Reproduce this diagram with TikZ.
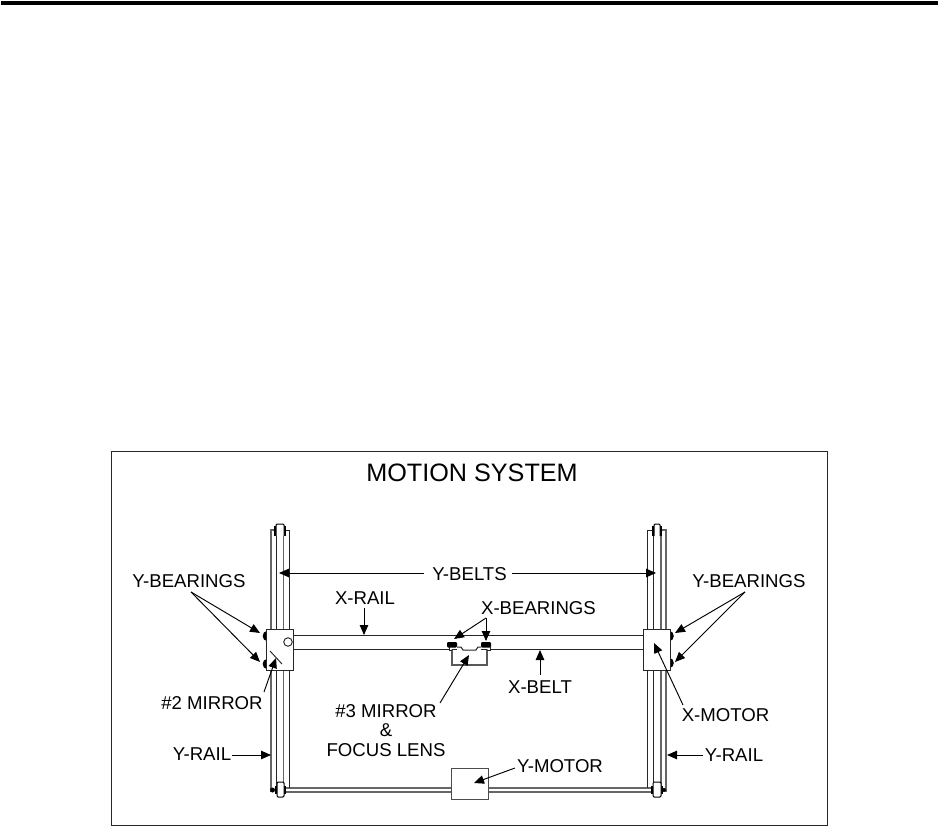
\documentclass[tikz,border=0pt]{standalone}
\usepackage{fontspec}
\setmainfont{Liberation Sans}
\usetikzlibrary{arrows.meta}
\tikzset{
  lab/.style={font=\fontsize{18.6}{20}\selectfont,inner sep=0pt,text=black},
  ptr/.style={line width=.95pt,-{Stealth[length=10pt,width=8.5pt,inset=0pt]}},
  thin rail/.style={line width=.95pt,draw=black!85},
  gray rail/.style={line width=1.6pt,draw=black!60},
  block/.style={draw=black!85,fill=white,line width=.95pt,inner sep=0pt},
  wheel/.style={draw=black,fill=white,line width=1pt,rounded corners=1.2pt},
  bearing/.style={fill=black,draw=none,rounded corners=1.2pt}
}
\begin{document}
\begin{tikzpicture}[x=1pt,y=-1pt]
\useasboundingbox (0,0) rectangle (938,826);
\fill[white] (0,0) rectangle (938,826);
% top rule and frame
\fill[black] (1,1) rectangle (938,5);
\draw[line width=.95pt,black!85] (111,451) rectangle (827,825);
\node[font=\fontsize{25.2}{27}\selectfont,inner sep=0pt] (title) at (472,472.5) {MOTION SYSTEM};
% Y belt bottom
\draw[gray rail] (285,788) -- (652,788);
\draw[gray rail] (285,792) -- (652,792);
% left rail
\draw[gray rail] (271,792) -- (271,530) -- (276.5,530);
\draw[thin rail] (276.5,792) -- (276.5,530);
\draw[gray rail] (283.5,792) -- (283.5,530);
\draw[thin rail] (283.5,530) -- (289,530) -- (289,788);
% right rail
\draw[thin rail] (647,788) -- (647,530) -- (653,530);
\draw[thin rail] (653,788) -- (653,530);
\draw[gray rail] (661,792) -- (661,530);
\draw[gray rail] (661,530) -- (666,530) -- (666,792);
% wheels
\foreach \xa/\xb in {274/286,652/662}{
  \fill[black] (\xa,526) rectangle (\xb,536);
  \draw[wheel] (\xa+2,536) -- (\xa+2,524) -- (\xb-2,524) -- (\xb-2,536);
}
\foreach \xa/\xb in {276/285,652/662}{
  \fill[black] (\xa-1,786) rectangle (\xb+1,794);
  \draw[wheel] (\xa+1,782) -- (\xa+1,797) -- (\xb-1,797) -- (\xb-1,782) -- cycle;
}
\fill[black] (272.5,790) circle (2.5);
\fill[black] (664,790) circle (2);
% X rail
\draw[thin rail] (293,635) -- (643,635);
\draw[thin rail] (293,649) -- (643,649);
% bearings on carriages
\fill[black] (266.5,636) ellipse (3.8 and 4.8);
\fill[black] (266.5,664) ellipse (3.8 and 4.8);
\fill[black] (670,636) ellipse (3.8 and 4.8);
\fill[black] (670,663) ellipse (3.8 and 4.8);
% carriages
\node[block,minimum width=27pt,minimum height=41pt] (lcar) at (279.5,649.5) {};
\node[block,minimum width=27pt,minimum height=41pt] (rcar) at (656.5,649.5) {};
\node[draw=black!85,line width=.95pt,circle,minimum size=8.5pt,inner sep=0pt] (hole) at (288,642) {};
\draw[line width=.95pt,black!85] (270,651) -- (282,664);
% X carriage
\draw[line width=1.3pt,black!65,fill=white] (452,650) -- (452,665) -- (487,665) -- (487,650);
\draw[line width=1pt,black!85,fill=white] (449,647) -- (449,650) -- (452,650) (487,650) -- (490,650) -- (490,647);
\fill[white] (457,646) rectangle (481,650);
\draw[line width=1pt,black!85] (457,647) -- (461,647) -- (463,650) -- (476,650) -- (478,647) -- (481,647);
\fill[bearing] (447,642) rectangle (457,647.5);
\fill[bearing] (481,642) rectangle (491,647.5);
% Y motor
\node[block,draw=black!70,minimum width=37pt,minimum height=31pt] (ymot) at (469.5,783.5) {};
% labels
\node[lab] (ybl) at (189,581) {Y-BEARINGS};
\node[lab] (ybr) at (749,581) {Y-BEARINGS};
\node[lab] (ybelts) at (469.5,574) {Y-BELTS};
\node[lab] (xrail) at (365,598) {X-RAIL};
\node[lab] (xbear) at (538.5,608) {X-BEARINGS};
\node[lab] (xbelt) at (540,687) {X-BELT};
\node[lab] (m2) at (212,703) {\#2 MIRROR};
\node[lab] (m3) at (386,711) {\#3 MIRROR};
\node[lab] (amp) at (386,730) {\&};
\node[lab] (focus) at (386,750) {FOCUS LENS};
\node[lab] (xmot) at (725.5,715) {X-MOTOR};
\node[lab] (yrl) at (202,754) {Y-RAIL};
\node[lab] (yrr) at (734,755) {Y-RAIL};
\node[lab] (ymotl) at (560,766) {Y-MOTOR};
% targets
\coordinate (a1) at (191,592);
\coordinate (t1) at (260,633);
\coordinate (t2) at (260,662);
\coordinate (a2) at (745,592);
\coordinate (t3) at (675,633);
\coordinate (t4) at (675,662);
\coordinate (t5) at (279,573);
\coordinate (t6) at (656,573);
\coordinate (s5) at (424,573);
\coordinate (s6) at (512,573);
\coordinate (s7) at (364,608);
\coordinate (t7) at (364,635);
\coordinate (a3) at (486,618);
\coordinate (t8) at (454,639);
\coordinate (t9) at (486,641);
\coordinate (s10) at (540,675);
\coordinate (t10) at (540,650);
\coordinate (s11) at (440,703);
\coordinate (t11) at (469,655);
\coordinate (s12) at (264,692);
\coordinate (t12) at (276,658);
\coordinate (s13) at (683,705);
\coordinate (t13) at (654,643);
\coordinate (s14) at (232,755);
\coordinate (t14) at (271,755);
\coordinate (s15) at (703,755);
\coordinate (t15) at (667,755);
\coordinate (s16) at (515,768);
\coordinate (t16) at (474,783);
% connectors
\draw[ptr] (a1) -- (t1);
\draw[ptr] (a1) -- (t2);
\draw[ptr] (a2) -- (t3);
\draw[ptr] (a2) -- (t4);
\draw[ptr] (s5) -- (t5);
\draw[ptr] (s6) -- (t6);
\draw[ptr] (s7) -- (t7);
\draw[ptr] (a3) -- (t8);
\draw[ptr] (a3) -- (t9);
\draw[ptr] (s10) -- (t10);
\draw[ptr] (s11) -- (t11);
\draw[ptr] (s12) -- (t12);
\draw[ptr] (s13) -- (t13);
\draw[ptr] (s14) -- (t14);
\draw[ptr] (s15) -- (t15);
\draw[ptr] (s16) -- (t16);
\end{tikzpicture}
\end{document}
